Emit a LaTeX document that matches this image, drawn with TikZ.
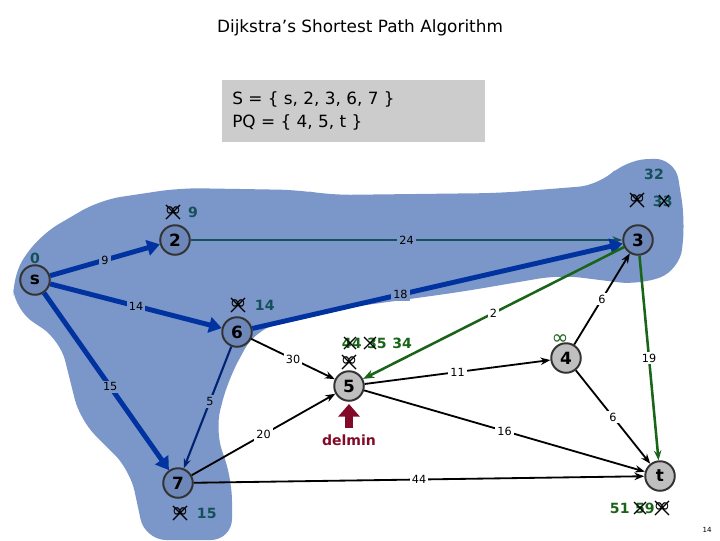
\documentclass[tikz,border=0pt]{standalone}
\usepackage{fontspec}
\setmainfont{DejaVu Sans}
\usetikzlibrary{arrows.meta}
\definecolor{blob}{RGB}{123,150,200}
\definecolor{nodeblue}{RGB}{110,135,185}
\definecolor{dteal}{RGB}{20,80,90}
\definecolor{dgreen}{RGB}{25,100,25}
\definecolor{tblue}{RGB}{0,50,160}
\definecolor{wine}{RGB}{130,10,40}
\tikzset{
 vert/.style={circle,draw=black!80,line width=1.4pt,fill=#1,minimum size=21pt,inner sep=0pt,font=\bfseries\large},
 wt/.style={fill=white,inner sep=1.5pt,font=\footnotesize,text=black},
 wtb/.style={fill=blob,inner sep=1.5pt,font=\footnotesize,text=black},
 dist/.style={font=\bfseries,text=#1},
 tree/.style={draw=tblue,line width=3.5pt,-{Triangle[length=9pt,width=11pt]}},
 blk/.style={draw=black,line width=1.3pt,-{Stealth[length=7pt]}},
}
\newcommand{\crinf}[1]{\node[font=\Large,inner sep=0pt] (#1) {∞}; \draw[line width=0.9pt] ([shift={(-5pt,-5pt)}]#1.center)--([shift={(5pt,5pt)}]#1.center) ([shift={(-5pt,5pt)}]#1.center)--([shift={(5pt,-5pt)}]#1.center);}
\begin{document}
\begin{tikzpicture}[x=0.025cm,y=-0.025cm]
\useasboundingbox (0,0) rectangle (720,540);
% blob
\fill[blob,rounded corners=15pt] (12,275) -- (40,235) -- (100,200) -- (180,188) -- (300,190) -- (330,195) -- (500,193) -- (600,185) -- (625,160) -- (675,158) -- (685,220) -- (680,270) -- (640,285) -- (560,275) -- (460,292) -- (330,310) -- (255,330) -- (228,380) -- (215,430) -- (232,480) -- (232,540) -- (145,540) -- (130,470) -- (80,420) -- (60,340) -- (15,310) -- cycle;
\node[font=\large] (title) at (360,28) {Dijkstra's Shortest Path Algorithm};
\node[fill=black!20,minimum width=263*0.025cm,minimum height=62*0.025cm] (box) at (353,111) {};
\node[anchor=west,align=left,font=\large,inner sep=0pt] (sset) at (232,111) {S = \{ s, 2, 3, 6, 7 \}\\[2pt] PQ = \{ 4, 5, t \}};
% vertices
\node[vert=nodeblue] (s) at (35,280) {s};
\node[vert=nodeblue] (v2) at (175,240) {2};
\node[vert=nodeblue] (v3) at (638,240) {3};
\node[vert=nodeblue] (v6) at (237,332) {6};
\node[vert=nodeblue] (v7) at (178,483) {7};
\node[vert=black!25] (v4) at (566,358) {4};
\node[vert=black!25] (v5) at (349,386) {5};
\node[vert=black!25] (vt) at (660,476) {t};
% edges
\draw[tree] (s) -- node[wtb]{9} (v2);
\draw[tree] (s) -- node[wtb]{14} (v6);
\draw[tree] (s) -- node[wtb,pos=0.53]{15} (v7);
\draw[dteal,line width=1.8pt,-{Stealth[length=7pt]}] (v2) -- node[wtb]{24} (v3);
\draw[tree] (v6) -- node[wtb,pos=0.4]{18} (v3);
\draw[tblue!70!black,line width=1.5pt,-{Stealth[length=7pt]}] (v6) -- node[wtb,pos=0.45]{5} (v7);
\draw[blk] (v6) -- node[wt]{30} (v5);
\draw[dgreen,line width=1.8pt,-{Stealth[length=8pt]}] (v3) -- node[wt]{2} (v5);
\draw[blk] (v4) -- node[wt]{6} (v3);
\draw[dgreen,line width=1.8pt,-{Stealth[length=7pt]}] (v3) -- node[wt]{19} (vt);
\draw[blk] (v5) -- node[wt]{11} (v4);
\draw[blk] (v5) -- node[wt]{16} (vt);
\draw[blk] (v4) -- node[wt]{6} (vt);
\draw[blk] (v7) -- node[wt,pos=0.5]{20} (v5);
\draw[blk] (v7) -- node[wt]{44} (vt);
% distances
\node[dist=dteal] (d0) at (35,258) {0};
\begin{scope}[shift={(173,212)}]\crinf{x2}\end{scope}
\node[dist=dteal] (d2) at (193,212) {9};
\begin{scope}[shift={(238,305)}]\crinf{x6}\end{scope}
\node[dist=dteal,anchor=west] (d6) at (250,305) {14};
\begin{scope}[shift={(180,513)}]\crinf{x7}\end{scope}
\node[dist=dteal,anchor=west] (d7) at (192,513) {15};
\node[dist=dteal] (d3a) at (654,174) {32};
\begin{scope}[shift={(637,200)}]\crinf{x3}\end{scope}
\node[dist=dteal,anchor=west] (d3) at (648,201) {33};
\draw[line width=0.9pt] (659,195)--(669,207) (659,207)--(669,195);
\node[dist=dgreen,anchor=west] (d5) at (337,343) {44\hspace{0.4em}35\hspace{0.4em}34};
\draw[line width=0.9pt] (344,337)--(356,349) (344,349)--(356,337) (364,337)--(376,349) (364,349)--(376,337);
\begin{scope}[shift={(349,362)}]\crinf{x5}\end{scope}
\node[font=\Large,text=dgreen,inner sep=0pt] (d4) at (560,340) {∞};
\node[dist=dgreen,anchor=west] (dt) at (605,508) {51\hspace{0.4em}59};
\draw[line width=0.9pt] (634,502)--(646,514) (634,514)--(646,502);
\begin{scope}[shift={(662,508)}]\crinf{xt}\end{scope}
% delmin
\draw[wine,line width=5pt,-{Triangle[length=9pt,width=15pt]}] (349,428) -- (349,404);
\node[text=wine,font=\bfseries] (dm) at (349,440) {delmin};
\node[font=\tiny] (pg) at (707,530) {14};
\end{tikzpicture}
\end{document}
